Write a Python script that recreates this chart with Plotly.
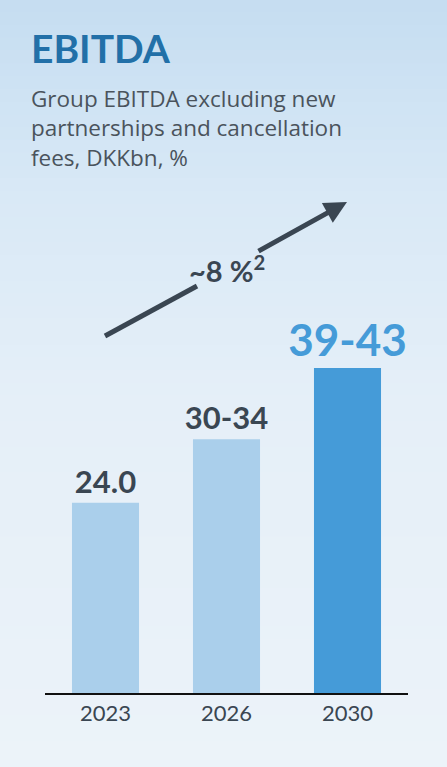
import plotly.graph_objects as go

# data
years = ["2023", "2026", "2030"]
ebitda_mid = [24.0, 32.0, 41.0]          # DKKbn, midpoint of guidance range
bar_labels = ["24.0", "30-34", "39-43"]
bar_colors = ["#aacfeb", "#aacfeb", "#459bd8"]
label_colors = ["#3a4652", "#3a4652", "#459bd8"]
label_sizes = [31, 31, 44]
growth_label = "~8 %<sup>2</sup>"
subtitle = "Group EBITDA excluding new<br>partnerships and cancellation<br>fees, DKKbn, %"

W, H = 447, 767
DARK = "#3a4652"
FONT = "Lato"


def px(x):
    return x / W


def py(y):
    return 1 - y / H


fig = go.Figure()
fig.add_trace(go.Bar(
    x=years,
    y=ebitda_mid,
    marker=dict(color=bar_colors, line=dict(width=0)),
    text=bar_labels,
    textposition="outside",
    constraintext="none",
    cliponaxis=False,
    textfont=dict(family=FONT, size=label_sizes, color=label_colors, weight="bold"),
    hoverinfo="skip",
))

# background gradient, light blue fading downwards
grad = [(0, (197, 221, 241)), (200, (217, 233, 246)), (400, (229, 239, 248)), (767, (236, 243, 249))]
shapes = []
n = 60
for i in range(n):
    y0 = H * i / n
    y1 = H * (i + 1) / n
    ym = (y0 + y1) / 2
    for (a, ca), (b, cb) in zip(grad[:-1], grad[1:]):
        if a <= ym <= b:
            t = (ym - a) / (b - a)
            c = tuple(round(ca[k] + (cb[k] - ca[k]) * t) for k in range(3))
            break
    shapes.append(dict(type="rect", xref="paper", yref="paper",
                       x0=0, x1=1, y0=py(y1), y1=py(y0) + 0.001,
                       fillcolor="rgb(%d,%d,%d)" % c, line=dict(width=0), layer="below"))

# tail of the growth arrow (the head is drawn as an annotation)
shapes.append(dict(type="line", xref="paper", yref="paper",
                   x0=px(105), y0=py(336), x1=px(197), y1=py(286),
                   line=dict(color=DARK, width=5)))

annotations = [
    dict(text="<b>EBITDA</b>", x=px(29), y=py(48),
         font=dict(family=FONT, size=39, color="#2270a8")),
    dict(text=subtitle, x=px(29), y=py(128), align="left",
         font=dict(family="Open Sans", size=22.5, color="#4a535c")),
]
for a in annotations:
    a.update(xref="paper", yref="paper", xanchor="left", yanchor="middle", showarrow=False)

annotations += [
    dict(text="<b>" + growth_label + "</b>", x=px(227), y=py(269), xref="paper", yref="paper",
         xanchor="center", yanchor="middle", showarrow=False,
         font=dict(family=FONT, size=29, color=DARK)),
    dict(text="", x=px(347), y=py(202), xref="paper", yref="paper",
         showarrow=True, ax=-90, ay=50, arrowhead=2, arrowsize=0.9,
         arrowwidth=5, arrowcolor=DARK, standoff=0),
]

fig.update_layout(
    width=W, height=H,
    margin=dict(l=0, r=0, t=0, b=0),
    paper_bgcolor="#e3eef8",
    plot_bgcolor="rgba(0,0,0,0)",
    showlegend=False,
    bargap=0.446,
    shapes=shapes,
    annotations=annotations,
    xaxis=dict(domain=[px(45), px(408)], range=[-0.5, 2.5], showline=True,
               linecolor="#111111", linewidth=2, showgrid=False, ticks="",
               tickfont=dict(family=FONT, size=22, color=DARK), fixedrange=True),
    yaxis=dict(domain=[74 / H, 1], range=[0, 87.4], visible=False,
               showgrid=False, zeroline=False, fixedrange=True),
)

fig.write_html("out.html", config={"displayModeBar": False},
               post_script="document.body.style.margin='0';")
